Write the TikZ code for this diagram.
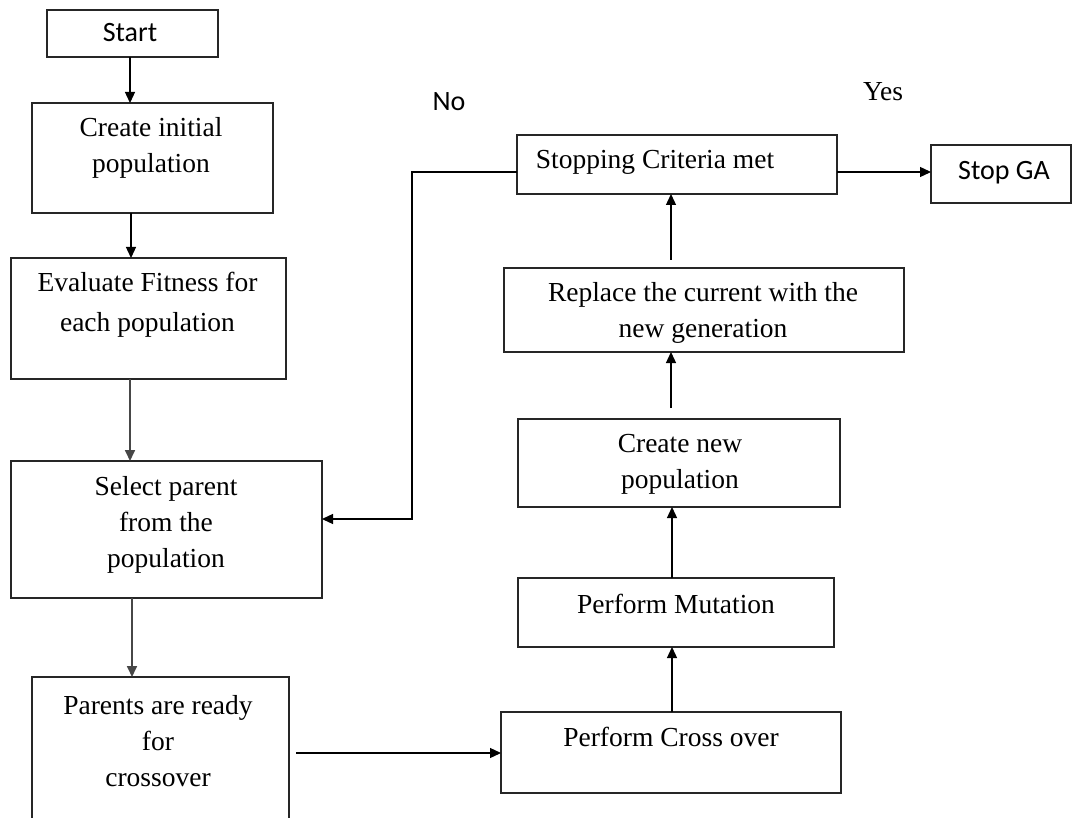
\documentclass[tikz,border=0pt]{standalone}
\usepackage{fontspec}
\setmainfont{Liberation Serif}
\newfontfamily\calfont{Carlito}
\usetikzlibrary{arrows.meta}
\begin{document}
\begin{tikzpicture}[x=1pt,y=-1pt,
  box/.style={draw=black!85, line width=1.4pt, inner sep=0pt, outer sep=0pt, fill=white},
  txt/.style={align=center, inner sep=0pt, font=\fontsize{27.5}{36}\selectfont},
  stxt/.style={align=center, inner sep=0pt, font=\calfont\fontsize{28}{34}\selectfont},
  arr/.style={draw=black, line width=1.3pt, -{Triangle[length=11pt,width=10pt]}},
  garr/.style={arr, draw=black!72, line width=1.7pt}
]
\useasboundingbox (0,0) rectangle (1073,818);
\clip (0,0) rectangle (1073,818);

% boxes
\node[box, minimum width=171pt, minimum height=47pt]  (start)   at (132.5,33.5) {};
\node[box, minimum width=241pt, minimum height=110pt] (create)  at (152.5,158) {};
\node[box, minimum width=275pt, minimum height=121pt] (eval)    at (148.5,318.5) {};
\node[box, minimum width=311pt, minimum height=137pt] (select)  at (166.5,529.5) {};
\node[box, minimum width=257pt, minimum height=153pt] (parents) at (160.5,753.5) {};
\node[box, minimum width=340pt, minimum height=81pt]  (cross)   at (671,752.5) {};
\node[box, minimum width=316pt, minimum height=69pt]  (mut)     at (676,612.5) {};
\node[box, minimum width=322pt, minimum height=88pt]  (cnew)    at (679,463) {};
\node[box, minimum width=400pt, minimum height=84pt]  (repl)    at (704,310) {};
\node[box, minimum width=320pt, minimum height=59pt]  (stopc)   at (677,164.5) {};
\node[box, minimum width=140pt, minimum height=58pt]  (stopga)  at (1001,174) {};

% texts
\node[stxt] (tstart)   at (130,33) {Start};
\node[txt]  (tcreate)  at (151,147.5) {Create initial\\population};
\node[txt, font=\fontsize{27.5}{40}\selectfont] (teval) at (147.5,305) {Evaluate Fitness for\\each population};
\node[txt]  (tselect)  at (166,525) {Select parent\\from the\\population};
\node[txt]  (tparents) at (158,741.5) {Parents are ready\\for\\crossover};
\node[txt]  (tcross)   at (671,737) {Perform Cross over};
\node[txt]  (tmut)     at (676,604) {Perform Mutation};
\node[txt]  (tcnew)    at (680,464.5) {Create new\\population};
\node[txt]  (trepl)    at (703,312.5) {Replace the current with the\\new generation};
\node[txt]  (tstopc)   at (655,162) {Stopping Criteria met};
\node[stxt] (tstopga)  at (1004,173) {Stop GA};
\node[stxt] (tno)      at (449,102) {No};
\node[txt]  (tyes)     at (883,92) {Yes};

% helper coordinates
\coordinate (xa) at (130,0);
\coordinate (xb) at (131,0);
\coordinate (xc) at (132,0);
\coordinate (xr) at (672,0);
\coordinate (xs) at (671,0);
\coordinate (ys) at (0,172);
\coordinate (pcs) at (296,753);
\coordinate (fb) at (412,519);

% connectors
\draw[arr]  (start.south -| xa) -- (create.north -| xa);
\draw[arr]  (create.south -| xb) -- (eval.north -| xb);
\draw[garr] (eval.south -| xa) -- (select.north -| xa);
\draw[garr] (select.south -| xc) -- (parents.north -| xc);
\draw[arr]  (pcs) -- (cross.west |- pcs);
\draw[arr]  (cross.north -| xr) -- (mut.south -| xr);
\draw[arr]  (mut.north -| xr) -- (cnew.south -| xr);
\draw[arr, shorten <=11pt] (cnew.north -| xs) -- (repl.south -| xs);
\draw[arr, shorten <=8pt]  (repl.north -| xs) -- (stopc.south -| xs);
\draw[arr]  (stopc.east |- ys) -- (stopga.west |- ys);
\draw[arr]  (stopc.west |- ys) -| (fb) -- (select.east |- fb);
\end{tikzpicture}
\end{document}
